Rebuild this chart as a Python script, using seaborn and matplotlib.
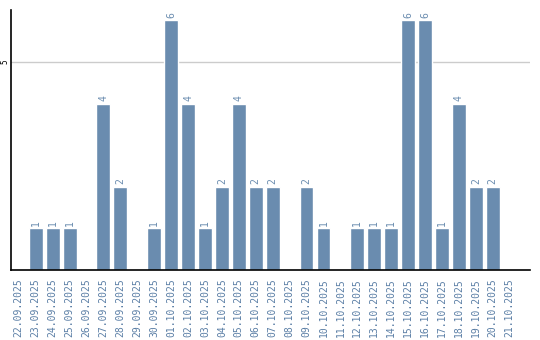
import matplotlib
matplotlib.use("Agg")
import matplotlib.pyplot as plt
import seaborn as sns
import pandas as pd

dates = ["22.09.2025", "23.09.2025", "24.09.2025", "25.09.2025", "26.09.2025",
         "27.09.2025", "28.09.2025", "29.09.2025", "30.09.2025", "01.10.2025",
         "02.10.2025", "03.10.2025", "04.10.2025", "05.10.2025", "06.10.2025",
         "07.10.2025", "08.10.2025", "09.10.2025", "10.10.2025", "11.10.2025",
         "12.10.2025", "13.10.2025", "14.10.2025", "15.10.2025", "16.10.2025",
         "17.10.2025", "18.10.2025", "19.10.2025", "20.10.2025", "21.10.2025"]
counts = [0, 1, 1, 1, 0, 4, 2, 0, 1, 6,
          4, 1, 2, 4, 2, 2, 0, 2, 1, 0,
          1, 1, 1, 6, 6, 1, 4, 2, 2, 0]
yticks = [5]

sns.set_style("white")
plt.rcParams['font.family'] = ['DejaVu Sans Mono', 'DejaVu Sans']

df = pd.DataFrame({"date": dates, "count": counts})

fig = plt.figure(figsize=(5.4, 3.4), dpi=100)
ax = fig.add_axes([11/540, 1 - 270/340, 519/540, 260/340])

bar_color = "#6a8caf"
sns.barplot(data=df, x="date", y="count", color=bar_color, width=0.82,
            saturation=1, ax=ax, order=dates)

for i, v in enumerate(counts):
    if v > 0:
        ax.text(i, v + 0.06, str(v), rotation=90, ha="center", va="bottom",
                fontsize=7, color=bar_color)

ax.set_xlim(-0.46, 30.2)
ax.set_ylim(0, 6.25)
ax.set_yticks(yticks)
ax.set_yticklabels([str(t) for t in yticks], rotation=90, va="center", ha="center",
                   fontsize=5.5, color="black")
ax.yaxis.grid(True, color="#cccccc", linewidth=1)
ax.set_axisbelow(True)
ax.tick_params(axis="y", length=0, pad=4)
ax.tick_params(axis="x", length=0, pad=6, labelsize=7, labelcolor="#5b7fa6")
plt.setp(ax.get_xticklabels(), rotation=90, ha="center", va="top")
ax.set_xlabel("")
ax.set_ylabel("")

for s in ["top", "right"]:
    ax.spines[s].set_visible(False)
for s in ["left", "bottom"]:
    ax.spines[s].set_color("black")
    ax.spines[s].set_linewidth(1.2)

fig.savefig("out.png", dpi=100)
